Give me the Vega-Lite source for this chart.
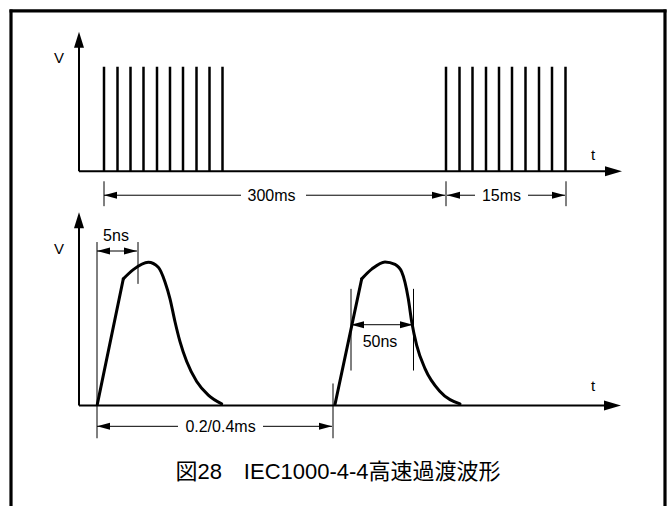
{
  "$schema": "https://vega.github.io/schema/vega-lite/v6.json",
  "width": 672,
  "height": 508,
  "autosize": {"type": "fit", "contains": "padding"},
  "padding": 0,
  "background": "white",
  "config": {"view": {"stroke": null}},
  "datasets": {
    "segments": [
      {"kind": "frame", "x": 11, "y": 9.5, "x2": 11, "y2": 508},
      {"kind": "frame", "x": 9.5, "y": 11, "x2": 666.5, "y2": 11},
      {"kind": "frame", "x": 665, "y": 9.5, "x2": 665, "y2": 508},
      {"kind": "axis", "x": 79, "y": 40, "x2": 79, "y2": 172},
      {"kind": "axis", "x": 79, "y": 172, "x2": 612, "y2": 172},
      {"kind": "axis", "x": 79, "y": 221, "x2": 79, "y2": 407},
      {"kind": "axis", "x": 79, "y": 407, "x2": 611, "y2": 407},
      {"kind": "pulse", "x": 104, "y": 67, "x2": 104, "y2": 172},
      {"kind": "pulse", "x": 117.5, "y": 67, "x2": 117.5, "y2": 172},
      {"kind": "pulse", "x": 130.5, "y": 67, "x2": 130.5, "y2": 172},
      {"kind": "pulse", "x": 143.5, "y": 67, "x2": 143.5, "y2": 172},
      {"kind": "pulse", "x": 157, "y": 67, "x2": 157, "y2": 172},
      {"kind": "pulse", "x": 170, "y": 67, "x2": 170, "y2": 172},
      {"kind": "pulse", "x": 183, "y": 67, "x2": 183, "y2": 172},
      {"kind": "pulse", "x": 196.5, "y": 67, "x2": 196.5, "y2": 172},
      {"kind": "pulse", "x": 209.5, "y": 67, "x2": 209.5, "y2": 172},
      {"kind": "pulse", "x": 222.5, "y": 67, "x2": 222.5, "y2": 172},
      {"kind": "pulse", "x": 446, "y": 67, "x2": 446, "y2": 172},
      {"kind": "pulse", "x": 459.5, "y": 67, "x2": 459.5, "y2": 172},
      {"kind": "pulse", "x": 472.5, "y": 67, "x2": 472.5, "y2": 172},
      {"kind": "pulse", "x": 486, "y": 67, "x2": 486, "y2": 172},
      {"kind": "pulse", "x": 499, "y": 67, "x2": 499, "y2": 172},
      {"kind": "pulse", "x": 512, "y": 67, "x2": 512, "y2": 172},
      {"kind": "pulse", "x": 525.5, "y": 67, "x2": 525.5, "y2": 172},
      {"kind": "pulse", "x": 539, "y": 67, "x2": 539, "y2": 172},
      {"kind": "pulse", "x": 552, "y": 67, "x2": 552, "y2": 172},
      {"kind": "pulse", "x": 565.5, "y": 67, "x2": 565.5, "y2": 172},
      {"kind": "dim", "x": 104, "y": 182, "x2": 104, "y2": 207},
      {"kind": "dim", "x": 446, "y": 182, "x2": 446, "y2": 207},
      {"kind": "dim", "x": 566, "y": 182, "x2": 566, "y2": 207},
      {"kind": "dim", "x": 104, "y": 196, "x2": 241, "y2": 196},
      {"kind": "dim", "x": 306, "y": 196, "x2": 445, "y2": 196},
      {"kind": "dim", "x": 447, "y": 196, "x2": 475, "y2": 196},
      {"kind": "dim", "x": 528, "y": 196, "x2": 565, "y2": 196},
      {"kind": "dim", "x": 97, "y": 243, "x2": 97, "y2": 440},
      {"kind": "dim", "x": 138, "y": 243, "x2": 138, "y2": 285},
      {"kind": "dim", "x": 97, "y": 252, "x2": 137, "y2": 252},
      {"kind": "dim", "x": 333, "y": 385, "x2": 333, "y2": 440},
      {"kind": "dim", "x": 97, "y": 428, "x2": 178, "y2": 428},
      {"kind": "dim", "x": 263, "y": 428, "x2": 332, "y2": 428},
      {"kind": "dim", "x": 351, "y": 290, "x2": 351, "y2": 372},
      {"kind": "dim", "x": 413.5, "y": 290, "x2": 413.5, "y2": 372},
      {"kind": "dim", "x": 351, "y": 326, "x2": 413, "y2": 326}
    ],
    "curves": [
      {"seg": "p1rise", "x": 97.3, "y": 406},
      {"seg": "p1rise", "x": 123.3, "y": 280},
      {"seg": "p1fall", "x": 123.3, "y": 280},
      {"seg": "p1fall", "x": 133.3, "y": 270.7},
      {"seg": "p1fall", "x": 148.3, "y": 263.3},
      {"seg": "p1fall", "x": 158.3, "y": 268.3},
      {"seg": "p1fall", "x": 165, "y": 283},
      {"seg": "p1fall", "x": 170, "y": 300},
      {"seg": "p1fall", "x": 175, "y": 323},
      {"seg": "p1fall", "x": 180, "y": 343},
      {"seg": "p1fall", "x": 186.7, "y": 363},
      {"seg": "p1fall", "x": 196.7, "y": 383},
      {"seg": "p1fall", "x": 208.3, "y": 396.7},
      {"seg": "p1fall", "x": 221.7, "y": 405.5},
      {"seg": "p2rise", "x": 335, "y": 406},
      {"seg": "p2rise", "x": 361.7, "y": 280},
      {"seg": "p2fall", "x": 361.7, "y": 280},
      {"seg": "p2fall", "x": 372, "y": 270},
      {"seg": "p2fall", "x": 385, "y": 263},
      {"seg": "p2fall", "x": 395, "y": 265.5},
      {"seg": "p2fall", "x": 401.7, "y": 273},
      {"seg": "p2fall", "x": 408.3, "y": 300},
      {"seg": "p2fall", "x": 411.7, "y": 323},
      {"seg": "p2fall", "x": 416.7, "y": 346.7},
      {"seg": "p2fall", "x": 425, "y": 370},
      {"seg": "p2fall", "x": 440, "y": 393},
      {"seg": "p2fall", "x": 460, "y": 405.5}
    ],
    "arrowsUp": [
      {"x": 79, "y": 32},
      {"x": 79, "y": 213}
    ],
    "arrowsAxisRight": [
      {"x": 622, "y": 172},
      {"x": 621, "y": 407}
    ],
    "arrowsDimLeft": [
      {"x": 104, "y": 196},
      {"x": 447, "y": 196},
      {"x": 97, "y": 252},
      {"x": 97, "y": 428},
      {"x": 351, "y": 326}
    ],
    "arrowsDimRight": [
      {"x": 445, "y": 196},
      {"x": 565, "y": 196},
      {"x": 137, "y": 252},
      {"x": 332, "y": 428},
      {"x": 413, "y": 326}
    ],
    "axisLabels": [
      {"x": 59, "y": 58, "text": "V"},
      {"x": 59, "y": 250, "text": "V"},
      {"x": 593, "y": 156, "text": "t"},
      {"x": 593, "y": 388, "text": "t"}
    ],
    "dimLabels": [
      {"x": 271.5, "y": 197, "text": "300ms"},
      {"x": 501.5, "y": 197, "text": "15ms"},
      {"x": 116, "y": 237, "text": "5ns"},
      {"x": 220.5, "y": 429, "text": "0.2/0.4ms"},
      {"x": 380, "y": 343, "text": "50ns"}
    ],
    "caption": [
      {"x": 338, "y": 474, "text": "図28　IEC1000-4-4高速過渡波形"}
    ]
  },
  "encoding": {
    "x": {"field": "x", "type": "quantitative", "scale": {"domain": [0, 672], "nice": false, "zero": false}, "axis": null},
    "y": {"field": "y", "type": "quantitative", "scale": {"domain": [0, 508], "nice": false, "zero": false, "reverse": true}, "axis": null}
  },
  "layer": [
    {
      "data": {"name": "segments"},
      "transform": [{"filter": "datum.kind === 'frame'"}],
      "mark": {"type": "rule", "color": "black", "strokeWidth": 3.2},
      "encoding": {"x2": {"field": "x2"}, "y2": {"field": "y2"}}
    },
    {
      "data": {"name": "segments"},
      "transform": [{"filter": "datum.kind === 'axis'"}],
      "mark": {"type": "rule", "color": "black", "strokeWidth": 2},
      "encoding": {"x2": {"field": "x2"}, "y2": {"field": "y2"}}
    },
    {
      "data": {"name": "segments"},
      "transform": [{"filter": "datum.kind === 'pulse'"}],
      "mark": {"type": "rule", "color": "black", "strokeWidth": 2.5},
      "encoding": {"x2": {"field": "x2"}, "y2": {"field": "y2"}}
    },
    {
      "data": {"name": "segments"},
      "transform": [{"filter": "datum.kind === 'dim'"}],
      "mark": {"type": "rule", "color": "black", "strokeWidth": 1},
      "encoding": {"x2": {"field": "x2"}, "y2": {"field": "y2"}}
    },
    {
      "data": {"name": "curves"},
      "mark": {"type": "line", "color": "black", "strokeWidth": 3, "interpolate": "monotone", "strokeJoin": "round", "strokeCap": "round"},
      "encoding": {"detail": {"field": "seg"}}
    },
    {
      "data": {"name": "arrowsUp"},
      "mark": {"type": "point", "filled": true, "color": "black", "opacity": 1, "shape": "M0,0L0.625,2L-0.625,2Z", "size": 256, "strokeWidth": 0}
    },
    {
      "data": {"name": "arrowsAxisRight"},
      "mark": {"type": "point", "filled": true, "color": "black", "opacity": 1, "shape": "M0,0L-2,-0.59L-2,0.59Z", "size": 289, "strokeWidth": 0}
    },
    {
      "data": {"name": "arrowsDimLeft"},
      "mark": {"type": "point", "filled": true, "color": "black", "opacity": 1, "shape": "M0,0L2,-0.54L2,0.54Z", "size": 169, "strokeWidth": 0}
    },
    {
      "data": {"name": "arrowsDimRight"},
      "mark": {"type": "point", "filled": true, "color": "black", "opacity": 1, "shape": "M0,0L-2,-0.54L-2,0.54Z", "size": 169, "strokeWidth": 0}
    },
    {
      "data": {"name": "axisLabels"},
      "mark": {"type": "text", "font": "Liberation Sans", "fontSize": 15, "align": "center", "baseline": "middle", "color": "black"},
      "encoding": {"text": {"field": "text"}}
    },
    {
      "data": {"name": "dimLabels"},
      "mark": {"type": "text", "font": "Liberation Sans", "fontSize": 16, "align": "center", "baseline": "middle", "color": "black"},
      "encoding": {"text": {"field": "text"}}
    },
    {
      "data": {"name": "caption"},
      "mark": {"type": "text", "font": "Liberation Sans, Noto Sans CJK JP", "fontSize": 22, "align": "center", "baseline": "middle", "color": "black"},
      "encoding": {"text": {"field": "text"}}
    }
  ]
}
